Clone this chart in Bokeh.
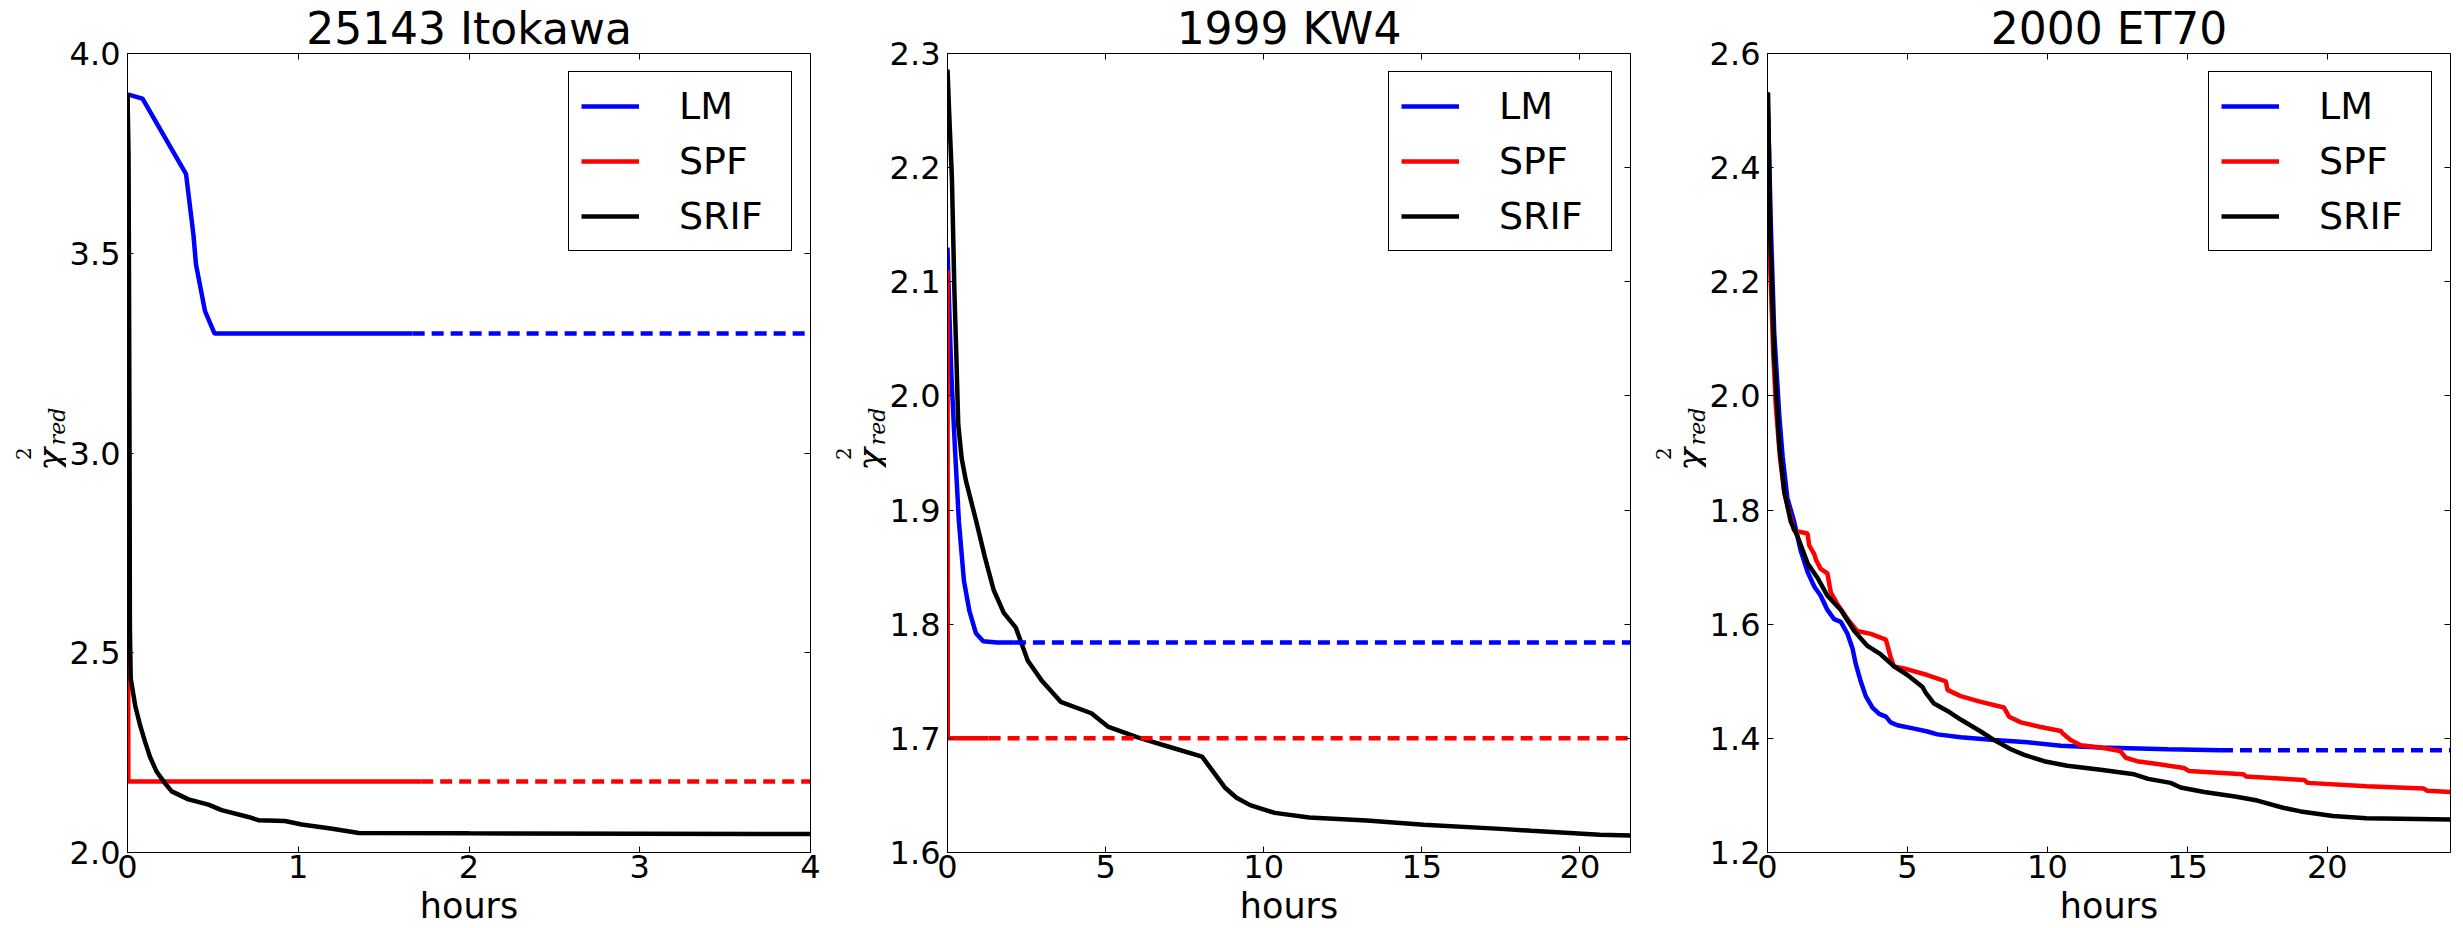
from math import pi
from bokeh.plotting import figure
from bokeh.models import (Range1d, FixedTicker, LinearAxis, Legend, LegendItem,
                          NumeralTickFormatter, CustomJSTickFormatter)
from bokeh.layouts import row
from bokeh.core.properties import value
from bokeh.embed import file_html
from bokeh.resources import INLINE

# ---------------- data ----------------
titles = ["25143 Itokawa", "1999 KW4", "2000 ET70"]
labels = ["LM", "SPF", "SRIF"]
xlabel = "hours"
ylabel_parts = ["χ", "2", "red"]

# Panel 1: 25143 Itokawa
it_lm_t = [0.0, 0.006, 0.088, 0.343, 0.386, 0.401, 0.454, 0.51, 1.67]
it_lm_v = [3.9, 3.897, 3.887, 3.698, 3.547, 3.472, 3.355, 3.299, 3.299]
it_lm_dash_t = [1.67, 4.0]
it_lm_dash_v = [3.299, 3.299]
it_spf_t = [0.0, 0.005, 1.72]
it_spf_v = [3.9, 2.178, 2.178]
it_spf_dash_t = [1.72, 4.0]
it_spf_dash_v = [2.178, 2.178]
it_srif_t = [0.0, 0.006, 0.009, 0.012, 0.014, 0.019, 0.045, 0.074, 0.103, 0.132, 0.171,
             0.22, 0.259, 0.357, 0.474, 0.551, 0.708, 0.766, 0.922, 1.02, 1.19, 1.355,
             2.0, 3.0, 4.0]
it_srif_v = [3.9, 3.75, 3.4, 3.0, 2.56, 2.435, 2.368, 2.318, 2.277, 2.239, 2.202,
             2.173, 2.153, 2.133, 2.12, 2.106, 2.089, 2.081, 2.079, 2.07, 2.06, 2.049,
             2.048, 2.047, 2.046]

# Panel 2: 1999 KW4
kw_lm_t = [0.0, 0.05, 0.12, 0.23, 0.36, 0.52, 0.69, 0.9, 1.13, 1.56, 2.1]
kw_lm_v = [2.13, 2.08, 2.02, 1.957, 1.89, 1.838, 1.812, 1.792, 1.785, 1.784, 1.784]
kw_lm_dash_t = [2.1, 21.6]
kw_lm_dash_v = [1.784, 1.784]
kw_spf_t = [0.0, 0.01, 1.3]
kw_spf_v = [2.11, 1.70, 1.70]
kw_spf_dash_t = [1.3, 21.6]
kw_spf_dash_v = [1.70, 1.70]
kw_srif_t = [0.0, 0.05, 0.14, 0.22, 0.28, 0.34, 0.45, 0.58, 0.91, 1.18, 1.46, 1.78, 2.16,
             2.33, 2.54, 2.97, 3.58, 4.55, 5.09, 5.99, 7.08, 8.05, 8.29, 8.77, 9.14, 9.57,
             10.35, 11.44, 13.26, 15.06, 17.49, 18.46, 20.63, 21.6]
kw_srif_v = [2.286, 2.25, 2.19, 2.09, 2.035, 1.975, 1.945, 1.926, 1.89, 1.859, 1.83, 1.81,
             1.797, 1.784, 1.768, 1.751, 1.732, 1.722, 1.71, 1.701, 1.692, 1.684, 1.675, 1.657,
             1.648, 1.6415, 1.6347, 1.6306, 1.628, 1.6243, 1.6207, 1.619, 1.6155, 1.615]

# Panel 3: 2000 ET70
et_lm_t = [0.02, 0.12, 0.24, 0.42, 0.54, 0.71, 0.95, 1.19, 1.43, 1.67, 1.9, 2.14, 2.38,
           2.62, 2.86, 3.04, 3.15, 3.33, 3.51, 3.75, 3.99, 4.23, 4.4, 4.64, 5.24, 5.71,
           6.07, 6.9, 8.1, 9.29, 10.48, 11.9, 14.3, 16.2]
et_lm_v = [2.5, 2.298, 2.111, 1.966, 1.894, 1.821, 1.78, 1.728, 1.692, 1.666, 1.65, 1.625,
           1.609, 1.604, 1.583, 1.557, 1.531, 1.5, 1.474, 1.454, 1.443, 1.438, 1.428, 1.423,
           1.417, 1.412, 1.407, 1.402, 1.397, 1.393, 1.387, 1.384, 1.381, 1.379]
et_lm_dash_t = [16.2, 24.4]
et_lm_dash_v = [1.379, 1.379]
et_spf_t = [0.03, 0.1, 0.2, 0.3, 0.45, 0.6, 0.95, 1.43, 1.49, 1.67, 1.73, 1.9, 2.14, 2.26,
            2.5, 2.86, 3.21, 3.69, 4.23, 4.29, 4.4, 4.52, 5.0, 5.71, 6.37, 6.43, 6.9, 7.62,
            8.45, 8.63, 9.05, 9.76, 10.48, 10.54, 10.83, 11.19, 11.9, 12.6, 12.8, 13.2, 13.93,
            14.88, 15.05, 17.0, 17.1, 19.17, 19.3, 21.4, 23.45, 23.57, 24.4]
et_spf_v = [2.4, 2.22, 2.08, 1.98, 1.89, 1.83, 1.764, 1.759, 1.738, 1.723, 1.713, 1.697,
            1.689, 1.656, 1.635, 1.609, 1.588, 1.583, 1.573, 1.562, 1.542, 1.526, 1.521,
            1.511, 1.5, 1.485, 1.474, 1.464, 1.454, 1.438, 1.428, 1.42, 1.413, 1.409, 1.397,
            1.388, 1.384, 1.378, 1.366, 1.36, 1.355, 1.348, 1.343, 1.337, 1.333, 1.327, 1.322,
            1.316, 1.312, 1.308, 1.306]
et_srif_t = [0.0, 0.02, 0.1, 0.24, 0.42, 0.6, 0.83, 1.07, 1.43, 1.79, 2.14, 2.62, 3.1, 3.57,
             4.05, 4.52, 5.0, 5.54, 5.65, 5.95, 6.43, 6.9, 7.62, 8.1, 8.69, 9.17, 9.88, 10.71,
             11.9, 13.1, 13.6, 14.4, 14.76, 15.6, 16.7, 17.5, 18.45, 19.05, 20.2, 21.4, 24.4]
et_srif_v = [2.53, 2.531, 2.277, 2.07, 1.914, 1.832, 1.78, 1.754, 1.707, 1.681, 1.65, 1.625,
             1.588, 1.562, 1.547, 1.526, 1.511, 1.49, 1.48, 1.461, 1.448, 1.433, 1.412, 1.397,
             1.381, 1.371, 1.36, 1.352, 1.345, 1.337, 1.329, 1.322, 1.314, 1.306, 1.298, 1.291,
             1.278, 1.272, 1.264, 1.26, 1.258]

# axes
it_xrange = [0.0, 4.0]
it_yrange = [2.0, 4.0]
it_xticks = [0, 1, 2, 3, 4]
it_yticks = [2.0, 2.5, 3.0, 3.5, 4.0]
kw_xrange = [0.0, 21.6]
kw_yrange = [1.6, 2.3]
kw_xticks = [0, 5, 10, 15, 20]
kw_yticks = [1.6, 1.7, 1.8, 1.9, 2.0, 2.1, 2.2, 2.3]
et_xrange = [0.0, 24.4]
et_yrange = [1.2, 2.6]
et_xticks = [0, 5, 10, 15, 20]
et_yticks = [1.2, 1.4, 1.6, 1.8, 2.0, 2.2, 2.4, 2.6]

colors = ["#0000ff", "#ff0000", "#000000"]

# ---------------- layout constants (pixels) ----------------
FONT = "DejaVu Sans"
SERIF = "DejaVu Serif"
H = 928
TOP = 52
FRAME_H = 800
FRAME_W = 684
TICK_W = 60
LW = 4.5
DASH = "12 7"


def ylabel_fig(w):
    f = figure(width=w, height=H, output_backend="svg", toolbar_location=None, title=None,
               x_range=Range1d(0, w), y_range=Range1d(0, H),
               x_axis_type=None, y_axis_type=None, min_border=0)
    f.xgrid.visible = False
    f.ygrid.visible = False
    f.outline_line_color = None
    f.border_fill_color = "white"
    f.background_fill_color = "white"
    # chi^2_red, rotated; this band ends TICK_W px left of the panel frame
    f.text(x=[w - 17], y=[H - 485], text=[ylabel_parts[0]], angle=pi / 2, text_align="left",
           text_baseline="alphabetic", text_font=value(SERIF), text_font_style="italic",
           text_font_size="38px", text_color="black")
    f.text(x=[w - 43], y=[H - 472], text=[ylabel_parts[1]], angle=pi / 2, text_align="left",
           text_baseline="alphabetic", text_font=value(SERIF),
           text_font_size="20px", text_color="black")
    f.text(x=[w - 9], y=[H - 455], text=[ylabel_parts[2]], angle=pi / 2, text_align="left",
           text_baseline="alphabetic", text_font=value(SERIF), text_font_style="italic",
           text_font_size="22px", text_color="black")
    return f


def tick_only_axis(ticker, loc, where, p):
    ax = LinearAxis(ticker=ticker, formatter=CustomJSTickFormatter(code="return ''"),
                    fixed_location=where)
    ax.major_label_standoff = 0
    ax.major_label_text_font_size = "0px"
    ax.major_tick_in = 6
    ax.major_tick_out = 0
    ax.minor_tick_line_color = None
    ax.axis_line_color = "black"
    ax.major_tick_line_color = "black"
    p.add_layout(ax, loc)


def panel(title, xr, yr, xt, yt, solids, dashes, right):
    pw = TICK_W + FRAME_W + right
    p = figure(width=pw, height=H, output_backend="svg", toolbar_location=None,
               x_range=Range1d(*xr), y_range=Range1d(*yr),
               min_border_left=TICK_W, min_border_right=right,
               min_border_top=TOP, min_border_bottom=H - TOP - FRAME_H)
    p.title.text = title
    p.title.align = "center"
    p.title.standoff = 0
    p.title.text_font = FONT
    p.title.text_font_size = "44px"
    p.title.text_font_style = "normal"
    p.title.text_color = "black"

    p.xgrid.visible = False
    p.ygrid.visible = False
    p.outline_line_color = "black"
    p.outline_line_width = 1
    p.background_fill_color = "white"
    p.border_fill_color = "white"

    p.xaxis.ticker = FixedTicker(ticks=xt)
    p.yaxis.ticker = FixedTicker(ticks=yt)
    p.xaxis.formatter = NumeralTickFormatter(format="0")
    p.yaxis.formatter = NumeralTickFormatter(format="0.0")
    for ax in (p.xaxis[0], p.yaxis[0]):
        ax.major_tick_in = 6
        ax.major_tick_out = 0
        ax.minor_tick_line_color = None
        ax.axis_line_color = "black"
        ax.major_tick_line_color = "black"
        ax.major_label_text_font = FONT
        ax.major_label_text_font_size = "32px"
        ax.major_label_text_color = "black"
    p.xaxis.major_label_standoff = 2
    p.yaxis.major_label_standoff = 7
    p.xaxis.axis_label = xlabel
    p.xaxis.axis_label_standoff = 5
    p.xaxis.axis_label_text_font = FONT
    p.xaxis.axis_label_text_font_size = "35px"
    p.xaxis.axis_label_text_font_style = "normal"
    p.xaxis.axis_label_text_color = "black"
    tick_only_axis(FixedTicker(ticks=xt), "above", yr[1], p)
    tick_only_axis(FixedTicker(ticks=yt), "right", xr[1], p)

    items = []
    for (t, v), c, lab in zip(solids, colors, labels):
        r = p.line(t, v, line_color=c, line_width=LW)
        items.append((lab, r))
    for (t, v), c in zip(dashes, colors):
        p.line(t, v, line_color=c, line_width=LW, line_dash=DASH)
    leg = Legend(items=[LegendItem(label=l, renderers=[r]) for l, r in items],
                 location="top_right")
    leg.margin = 18
    leg.padding = 12
    leg.spacing = 11
    leg.glyph_width = 58
    leg.glyph_height = 20
    leg.label_standoff = 40
    leg.label_width = 100
    leg.label_text_font = FONT
    leg.label_text_font_size = "38px"
    leg.label_text_color = "black"
    leg.border_line_color = "black"
    leg.border_line_width = 1
    leg.border_line_alpha = 1
    leg.background_fill_color = "white"
    leg.background_fill_alpha = 1
    p.add_layout(leg)
    return p


y1 = ylabel_fig(66)
p1 = panel(titles[0], it_xrange, it_yrange, it_xticks, it_yticks,
           [(it_lm_t, it_lm_v), (it_spf_t, it_spf_v), (it_srif_t, it_srif_v)],
           [(it_lm_dash_t, it_lm_dash_v), (it_spf_dash_t, it_spf_dash_v)], 18)
y2 = ylabel_fig(58)
p2 = panel(titles[1], kw_xrange, kw_yrange, kw_xticks, kw_yticks,
           [(kw_lm_t, kw_lm_v), (kw_spf_t, kw_spf_v), (kw_srif_t, kw_srif_v)],
           [(kw_lm_dash_t, kw_lm_dash_v), (kw_spf_dash_t, kw_spf_dash_v)], 18)
y3 = ylabel_fig(58)
p3 = panel(titles[2], et_xrange, et_yrange, et_xticks, et_yticks,
           [(et_lm_t, et_lm_v), (et_spf_t, et_spf_v), (et_srif_t, et_srif_v)],
           [(et_lm_dash_t, et_lm_dash_v)], 12)

layout = row(y1, p1, y2, p2, y3, p3, spacing=0)
open("out.html", "w").write(file_html(layout, INLINE))
